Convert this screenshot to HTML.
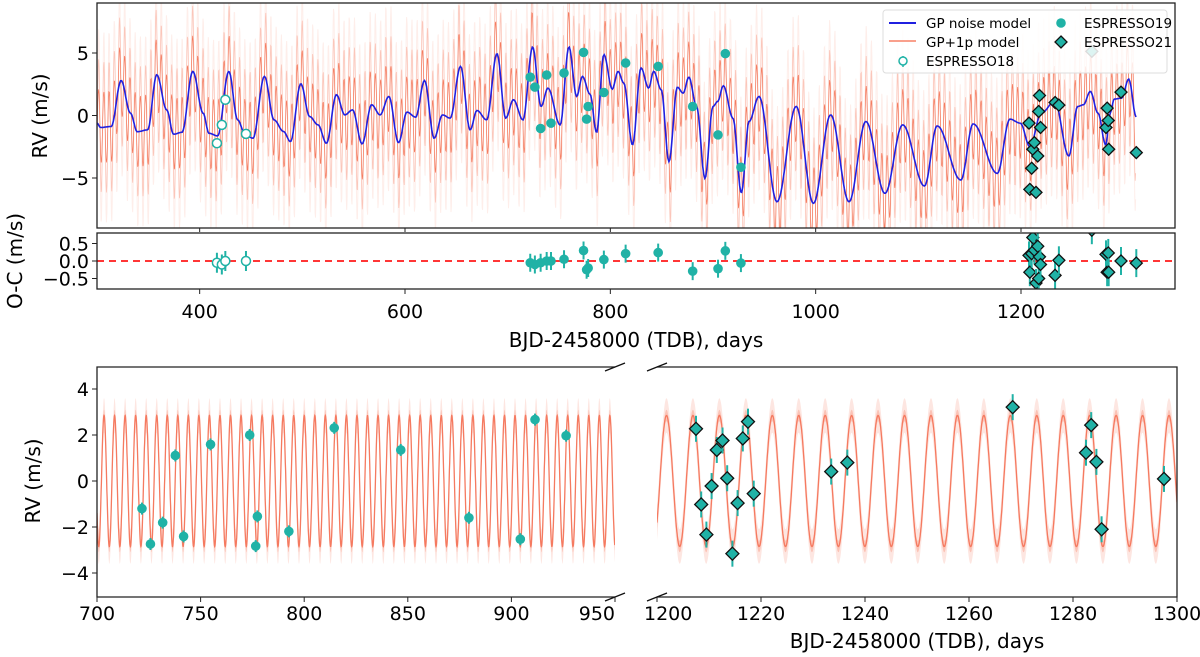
<!DOCTYPE html>
<html><head><meta charset="utf-8"><style>
body{margin:0;background:#fff}
svg{display:block;font-family:"DejaVu Sans","Liberation Sans",sans-serif}
</style></head><body>
<svg id="chart" width="1200" height="657" viewBox="0 0 1200 657"></svg>
<script>
// ---- data ----
const gpT=[300,303.4,313.8,323.5,332.5,339.2,349.3,358.2,367.9,374.6,382.8,393.3,403.4,409,417.5,428.4,437,444.4,451.9,463.1,472.4,481.7,488.4,498.5,507.1,515.3,523.5,533.2,541.4,548.9,558.2,567.5,575.7,584.3,593.7,601.9,610.4,619,628.4,636.6,644,654.1,663.4,670.1,679.5,689.6,698.1,705.6,714.9,724.3,732.5,739.2,751.1,759.7,767.2,772.8,780.2,786.6,793.7,801.9,807.5,813.1,821.6,829.9,837.3,842.2,849.6,857.1,865.3,870.9,876.5,884,892.2,900,904.5,910.1,919.4,927.6,935.1,944.8,962.3,981,997.8,1014.6,1032.5,1048.9,1067.5,1084.7,1106,1118.3,1141.4,1153.4,1176.9,1189.2,1199.3,1208.6,1219.8,1232.8,1246.6,1255.2,1260.8,1267.5,1275,1282.5,1286.9,1290.7,1298.1,1304.9,1312.3];
const gpV=[-0.6,-0.96,-0.88,2.8,0.2,-1.3,-1.15,3.26,0.45,-1.5,-1.34,3.53,0.19,-1.42,-1.63,3.53,-0.35,-1.55,-1.82,3.13,-0.35,-1.28,-2.09,2.54,-0.08,-0.75,-2.22,1.66,0.05,0.45,-2.27,0.86,0.05,1.52,-2.17,0.27,-0.13,2.8,-1.82,0.05,-0.21,3.93,-1.15,0.4,-0.35,4.95,-0.21,1.26,-0.35,5.48,0.72,2.19,-0.75,5.48,1.52,3.13,1.71,-1.36,4.87,2.11,3.53,2.59,-2.35,3.8,2.19,3.53,2.06,-3.69,2.27,1.79,3.07,0.72,-5.03,0.72,1.12,2.38,-0.21,-6.18,-0.48,1.52,-6.9,0.72,-7.03,0.05,-6.9,-0.48,-6.23,-0.75,-5.64,-0.83,-5.16,-0.67,-4.63,-0.29,-0.61,-2.49,0.19,1.12,-3.24,0.72,0.86,1.93,0.19,-2.35,0.19,1.31,1.39,2.91,-0.13];
// planet model parameters
const planetK=2.85, planetP=5.086, planetT0=703.4;
const e18T=[416.8,421.6,425,445.1];
const e18V=[-2.22,-0.75,1.26,-1.47];
const e18OC=[-0.05,-0.1,0,0];
const e19T=[722,726.5,732.1,738,742.2,754.9,773.9,776.9,778.4,793.7,814.9,846.6,880.2,904.9,912,927.2];
const e19V=[3.07,2.27,-1.04,3.24,-0.61,3.4,5.05,-0.29,0.72,1.84,4.2,3.93,0.72,-1.55,4.95,-4.14];
const e19OC=[-0.05,-0.1,-0.05,0,0,0.05,0.3,-0.25,-0.2,0.04,0.21,0.24,-0.29,-0.22,0.29,-0.06];
const e21T=[1207.8,1208.6,1210.4,1211.5,1213,1214.6,1216.3,1217.2,1218,1219,1233.2,1236.9,1269,1282.8,1283.9,1285,1285.4,1297.4,1312.3];
const e21V=[-0.61,-5.91,-4.22,-2.7,-2.17,-6.15,-3.24,0.32,1.6,-0.96,1.04,0.83,5.13,-0.96,0.59,-0.4,-2.7,1.87,-2.97];
const e21OC=[0.16,-0.32,0.21,0.67,0.31,-0.63,0.42,-0.5,0.12,-0.1,-0.41,0.02,0.88,0.19,-0.32,0.23,-0.32,0,-0.06];
const foldLT=[721.7,725.8,731.7,737.8,741.8,754.8,773.7,776.6,777.4,792.6,814.5,846.6,879.5,904.3,911.4,926.4];
const foldLV=[-1.2,-2.74,-1.81,1.11,-2.41,1.59,2.0,-2.83,-1.54,-2.19,2.31,1.35,-1.6,-2.53,2.67,1.97];
const foldRT=[1207.5,1208.5,1209.5,1210.5,1211.5,1212.6,1213.5,1214.5,1215.5,1216.5,1217.5,1218.6,1233.5,1236.6,1268.4,1282.5,1283.5,1284.5,1285.5,1297.5];
const foldRV=[2.27,-1.02,-2.33,-0.22,1.35,1.76,0.12,-3.16,-0.96,1.85,2.58,-0.55,0.41,0.8,3.21,1.23,2.43,0.83,-2.1,0.09];
const topXTicks=[400,600,800,1000,1200];
const topYTicks=[-5,0,5];
const ocYTicks=[-0.5,0,0.5];
const ocYLabels=["\u22120.5","0.0","0.5"];
const blXTicks=[700,750,800,850,900,950];
const brXTicks=[1200,1220,1240,1260,1280,1300];
const bYTicks=[-4,-2,0,2,4];

// ---- scales ----
const NS="http://www.w3.org/2000/svg";
const svg=document.getElementById('chart');
const xTop=t=>97+(t-300)*1078/1050;
const yTop=v=>115.5-v*12.5;
const yOC=v=>261-v*35;
const xBL=t=>97+(t-700)*518/250;
const xBR=t=>657+(t-1200)*5.2;
const yB=v=>481-v*23;
const TEAL="#20b2a6";
function mk(tag,attrs,parent){const e=document.createElementNS(NS,tag);for(const k in attrs)e.setAttribute(k,attrs[k]);(parent||svg).appendChild(e);return e;}
function gp(t){if(t<=gpT[0])return gpV[0];for(let i=1;i<gpT.length;i++){if(t<=gpT[i]){const f=(t-gpT[i-1])/(gpT[i]-gpT[i-1]);const s=(1-Math.cos(f*Math.PI))/2;return gpV[i-1]+(gpV[i]-gpV[i-1])*s;}}return gpV[gpV.length-1];}
function planet(t,k){return k*Math.cos(2*Math.PI*(t-planetT0)/planetP);}
function txt(x,y,s,size,anchor,parent,name,rot){const e=mk('text',{x:x,y:y,'font-size':size,'text-anchor':anchor||'middle',fill:'#000'},parent);if(rot)e.setAttribute('transform',`rotate(-90 ${x} ${y})`);e.textContent=s;

return e;}
const defs=mk('defs',{});
function clip(id,x,y,w,h){const c=mk('clipPath',{id:id},defs);mk('rect',{x:x,y:y,width:w,height:h},c);}
clip('cTop',97,3,1078,225);clip('cOC',97,233,1078,56);clip('cBL',97,367,518,230);clip('cBR',657,367,520,230);

function diamond(g,x,y,r,name){const d=mk('path',{d:`M${x} ${y-r}L${x+r} ${y}L${x} ${y+r}L${x-r} ${y}Z`,fill:TEAL,stroke:'#111','stroke-width':1.3},g);

}
function ebar(g,x,y1,y2){mk('line',{x1:x,x2:x,y1:y1,y2:y2,stroke:TEAL,'stroke-width':2},g);}

// ---- top panel ----
const gTop=mk('g',{'clip-path':'url(#cTop)'});


[[4.8,'#feeeea',1],[2.4,'#fbc6ba',0.8],[0,'#f47c60',0.7]].forEach(([extra,col,w])=>{
  let pts=[];for(let t=300;t<=1312;t+=0.4){pts.push(xTop(t).toFixed(1)+','+yTop(gp(t)+planet(t,planetK+extra)).toFixed(1));}
  const p=mk('polyline',{points:pts.join(' '),fill:'none',stroke:col,'stroke-width':w},gTop);
  
  
});
{let pts=[];for(let t=300;t<=1312.3;t+=1)pts.push(xTop(t).toFixed(1)+','+yTop(gp(t)).toFixed(1));
const p=mk('polyline',{points:pts.join(' '),fill:'none',stroke:'#2020e0','stroke-width':1.6},gTop);

}
e18T.forEach((t,i)=>{const c=mk('circle',{cx:xTop(t),cy:yTop(e18V[i]),r:4.5,fill:'#fff',stroke:TEAL,'stroke-width':1.5},gTop);

});
e19T.forEach((t,i)=>{const c=mk('circle',{cx:xTop(t),cy:yTop(e19V[i]),r:4.8,fill:TEAL},gTop);

});
e21T.forEach((t,i)=>diamond(gTop,xTop(t),yTop(e21V[i]),6,'espresso21-point'));
mk('rect',{x:97,y:3,width:1078,height:225,fill:'none',stroke:'#222','stroke-width':1.3});
topXTicks.forEach(t=>mk('line',{x1:xTop(t),x2:xTop(t),y1:228,y2:232,stroke:'#222'}));
topYTicks.forEach(v=>{mk('line',{x1:92,x2:97,y1:yTop(v),y2:yTop(v),stroke:'#222'});txt(89,yTop(v)+7,v<0?'\u2212'+(-v):String(v),19,'end',svg,'y-tick-label');});
txt(47,116,'RV (m/s)',20,'middle',svg,'top-y-axis-title',true);

// legend
const lg=mk('g',{});


mk('rect',{x:883,y:10,width:284,height:63,rx:3,fill:'#fff','fill-opacity':0.85,stroke:'#ddd'},lg);
mk('line',{x1:889,x2:916,y1:23,y2:23,stroke:'#2020e0','stroke-width':2},lg);
txt(926,28,'GP noise model',13.5,'start',lg,'legend-gp-noise');
mk('line',{x1:889,x2:916,y1:41,y2:41,stroke:'#f9a08c','stroke-width':2},lg);
txt(926,47,'GP+1p model',13.5,'start',lg,'legend-gp-1p');
mk('line',{x1:903,x2:903,y1:56,y2:67,stroke:TEAL,'stroke-width':1.5},lg);
mk('circle',{cx:903,cy:61,r:4,fill:'#fff',stroke:TEAL,'stroke-width':1.5},lg);
txt(926,66,'ESPRESSO18',13.5,'start',lg,'legend-espresso18');
mk('circle',{cx:1061,cy:23,r:4.8,fill:TEAL},lg);
txt(1084,28,'ESPRESSO19',13.5,'start',lg,'legend-espresso19');
diamond(lg,1061,42,6,'legend-diamond');
txt(1084,47,'ESPRESSO21',13.5,'start',lg,'legend-espresso21');

// ---- O-C panel ----
const gOC=mk('g',{'clip-path':'url(#cOC)'});


mk('line',{x1:97,x2:1175,y1:yOC(0),y2:yOC(0),stroke:'#ff1a1a','stroke-width':1.8,'stroke-dasharray':'7,5'},gOC);
e18T.forEach((t,i)=>{const x=xTop(t),y=yOC(e18OC[i]);ebar(gOC,x,y-10,y+10);const c=mk('circle',{cx:x,cy:y,r:4.5,fill:'#fff',stroke:TEAL,'stroke-width':1.5},gOC);

});
e19T.forEach((t,i)=>{const x=xTop(t),y=yOC(e19OC[i]);ebar(gOC,x,y-9,y+9);const c=mk('circle',{cx:x,cy:y,r:4.8,fill:TEAL},gOC);

});
e21T.forEach((t,i)=>{const x=xTop(t),y=yOC(e21OC[i]);ebar(gOC,x,y-14,y+14);diamond(gOC,x,y,6,'espresso21-residual');});
mk('rect',{x:97,y:233,width:1078,height:56,fill:'none',stroke:'#222','stroke-width':1.3});
topXTicks.forEach(t=>{mk('line',{x1:xTop(t),x2:xTop(t),y1:289,y2:294,stroke:'#222'});txt(xTop(t),318,String(t),19,'middle',svg,'x-tick-label');});
ocYTicks.forEach((v,i)=>{mk('line',{x1:92,x2:97,y1:yOC(v),y2:yOC(v),stroke:'#222'});txt(89,yOC(v)+7,ocYLabels[i],19,'end',svg,'oc-y-tick-label');});
txt(22,261,'O-C (m/s)',20,'middle',svg,'oc-y-axis-title',true);
txt(636,347,'BJD-2458000 (TDB), days',20,'middle',svg,'top-x-axis-title');

// ---- bottom panels ----
function foldPanel(cid,xs,t0,t1,T,V,isDiamond,name){
  const g=mk('g',{'clip-path':`url(#${cid})`});
  
  
  [[0.75,'#fde6e1'],[0.25,'#fbc3b6']].forEach(([d,col])=>{
    let up=[],lo=[];for(let t=t0;t<=t1;t+=0.1){up.push(xs(t).toFixed(1)+','+yB(planet(t,planetK)+d).toFixed(1));lo.push(xs(t).toFixed(1)+','+yB(planet(t,planetK)-d).toFixed(1));}
    const p=mk('polygon',{points:up.concat(lo.reverse()).join(' '),fill:col,stroke:'none'},g);
    
    
  });
  let pts=[];for(let t=t0;t<=t1;t+=0.1)pts.push(xs(t).toFixed(1)+','+yB(planet(t,planetK)).toFixed(1));
  const p=mk('polyline',{points:pts.join(' '),fill:'none',stroke:'#f57a60','stroke-width':1.3},g);
  
  
  T.forEach((t,i)=>{const x=xs(t),y=yB(V[i]);
    if(isDiamond){ebar(g,x,y-13,y+13);diamond(g,x,y,6.5,'espresso21-point');}
    else{ebar(g,x,y-6,y+6);const c=mk('circle',{cx:x,cy:y,r:4.8,fill:TEAL},g);
      
      }
  });
}
foldPanel('cBL',xBL,700,950,foldLT,foldLV,false,'bottom-left-panel');
foldPanel('cBR',xBR,1200,1300,foldRT,foldRV,true,'bottom-right-panel');
mk('path',{d:'M615 367H97V597H615',fill:'none',stroke:'#222','stroke-width':1.3});
mk('path',{d:'M657 367H1177V597H657',fill:'none',stroke:'#222','stroke-width':1.3});
[[615,367],[615,597],[657,367],[657,597]].forEach(([x,y])=>mk('line',{x1:x-10,y1:y+4,x2:x+10,y2:y-4,stroke:'#111','stroke-width':1.3}));
blXTicks.forEach(t=>{mk('line',{x1:xBL(t),x2:xBL(t),y1:597,y2:602,stroke:'#222'});txt(xBL(t),620,String(t),19,t==950?'end':'middle',svg,'x-tick-label');});
brXTicks.forEach(t=>{mk('line',{x1:xBR(t),x2:xBR(t),y1:597,y2:602,stroke:'#222'});txt(xBR(t)+(t==1200?-13:0),620,String(t),19,t==1200?'start':'middle',svg,'x-tick-label');});
bYTicks.forEach(v=>{mk('line',{x1:92,x2:97,y1:yB(v),y2:yB(v),stroke:'#222'});txt(89,yB(v)+7,v<0?'\u2212'+(-v):String(v),19,'end',svg,'y-tick-label');});
txt(40,481,'RV (m/s)',20,'middle',svg,'bottom-y-axis-title',true);
txt(917,648,'BJD-2458000 (TDB), days',20,'middle',svg,'bottom-x-axis-title');
</script>
</body></html>
